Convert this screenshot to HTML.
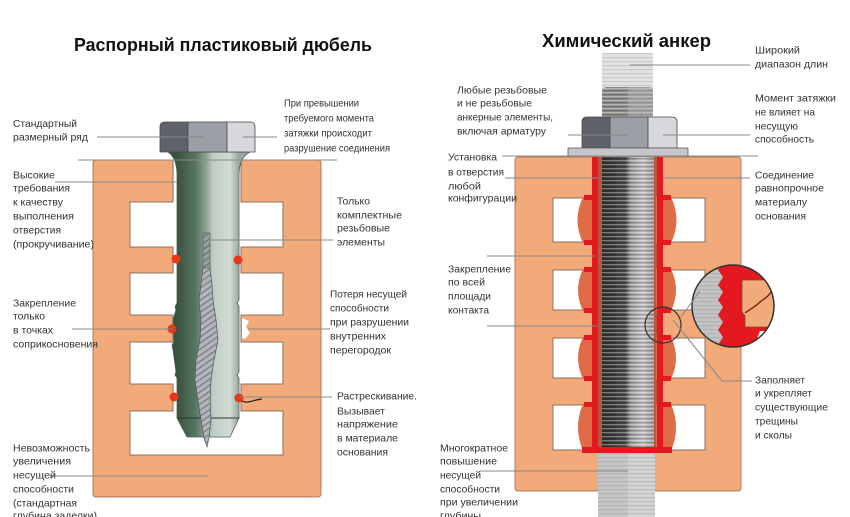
<!DOCTYPE html>
<html><head><meta charset="utf-8"><style>
html,body{margin:0;padding:0;background:#fff;}
svg{display:block}
text{font-family:"Liberation Sans","DejaVu Sans",sans-serif;}
.l{font-size:10.5px;fill:#333;}
.t{font-size:18px;font-weight:bold;fill:#111;}
.ld{stroke:#888;stroke-width:1;fill:none;}
</style></head><body>
<svg width="850" height="517" viewBox="0 0 850 517" xmlns="http://www.w3.org/2000/svg">
<defs>
 <linearGradient id="gb" gradientUnits="userSpaceOnUse" x1="177" x2="239" y1="0" y2="0">
  <stop offset="0" stop-color="#37523e"/>
  <stop offset="0.3" stop-color="#587561"/>
  <stop offset="0.47" stop-color="#8ea394"/>
  <stop offset="0.58" stop-color="#bfcdc3"/>
  <stop offset="0.85" stop-color="#d2dcd5"/>
  <stop offset="1" stop-color="#98aa9d"/>
 </linearGradient>
 <linearGradient id="gr" gradientUnits="userSpaceOnUse" x1="603" x2="653" y1="0" y2="0">
  <stop offset="0" stop-color="#2e2e2e"/>
  <stop offset="0.45" stop-color="#4a4a4a"/>
  <stop offset="0.55" stop-color="#9c9c9c"/>
  <stop offset="0.8" stop-color="#c6c6c6"/>
  <stop offset="1" stop-color="#a0a0a0"/>
 </linearGradient>
 <pattern id="pS" width="8" height="4" patternUnits="userSpaceOnUse">
  <rect y="0" width="8" height="1.3" fill="#ffffff" fill-opacity="0.35"/>
  <rect y="2.2" width="8" height="1" fill="#000000" fill-opacity="0.25"/>
 </pattern>
 <pattern id="pL" width="8" height="4" patternUnits="userSpaceOnUse">
  <rect y="1" width="8" height="1.2" fill="#a8a8a8" fill-opacity="0.6"/>
 </pattern>
 <pattern id="pD" width="5" height="5" patternUnits="userSpaceOnUse" patternTransform="rotate(-35)">
  <rect width="5" height="1.6" fill="#5a5e64"/>
 </pattern>
 <clipPath id="cc"><circle cx="733" cy="306" r="41"/></clipPath>
</defs>

<!-- Titles -->
<text class="t" x="74" y="51" textLength="298" lengthAdjust="spacingAndGlyphs">Распорный пластиковый дюбель</text>
<text class="t" x="542" y="47" textLength="169" lengthAdjust="spacingAndGlyphs">Химический анкер</text>

<!-- ===== LEFT DIAGRAM ===== -->
<rect x="93" y="160" width="228" height="337" rx="3" fill="#f3aa7b" stroke="#a67c62" stroke-width="1"/>
<path d="M173,160 L173,202 L130,202 L130,247 L173,247 L173,273 L130,273 L130,315 L173,315 L173,342 L130,342 L130,384 L173,384 L173,411 L130,411 L130,455 L283,455 L283,411 L241,411 L241,384 L283,384 L283,342 L241,342 L241,315 L283,315 L283,273 L241,273 L241,247 L283,247 L283,202 L241,202 L241,160 Z" fill="#fff" stroke="#8a7060" stroke-width="1"/>
<!-- crack white notch -->
<path d="M242,318 L249,321 L246,327 L250,333 L245,339 L242,338 Z" fill="#fff"/>

<!-- bolt body / plug -->
<path d="M168,152 L250,152 C242,156 239,164 239,175 L239,300 L237,303 L239,306 L239,372 L237,375 L239,378 L239,418 L230,437 L187,437 L177,418 L177,378 L175,375 L176,372 L173,350 L172,345 L174,342 L173,320 L176,310 L175,307 L177,303 L177,175 C177,164 174,156 168,152 Z" fill="url(#gb)" stroke="#4e5f52" stroke-width="0.8"/>
<line x1="177" y1="418" x2="239" y2="418" stroke="#333" stroke-width="0.9"/>
<!-- slot & screw -->
<rect x="203" y="233" width="7" height="37" fill="#9aa0a6" stroke="#555" stroke-width="0.6"/>
<rect x="203" y="233" width="7" height="37" fill="url(#pD)" opacity="0.6"/>
<path d="M203,268 L201,285 L199,300 L201,320 L200,340 L196,360 L195,380 L198,400 L201,420 L204,438 L207,447 L209,438 L211,420 L210,400 L211,380 L214,360 L218,340 L216,320 L213,300 L212,285 L210,268 Z" fill="#b3b7bd" stroke="#50555a" stroke-width="0.7"/>
<path d="M203,268 L201,285 L199,300 L201,320 L200,340 L196,360 L195,380 L198,400 L201,420 L204,438 L207,447 L209,438 L211,420 L210,400 L211,380 L214,360 L218,340 L216,320 L213,300 L212,285 L210,268 Z" fill="url(#pD)" opacity="0.55"/>

<!-- bolt head -->
<path d="M160,127 Q160,122 165,122 L188,122 L188,152 L160,152 Z" fill="#5f626b" stroke="#4a4a4a" stroke-width="0.8"/>
<rect x="188" y="122" width="39" height="30" fill="#9c9fa6" stroke="#4a4a4a" stroke-width="0.8"/>
<path d="M227,122 L250,122 Q255,122 255,127 L255,152 L227,152 Z" fill="#d6d8db" stroke="#4a4a4a" stroke-width="0.8"/>

<!-- red dots -->
<g fill="#e8381a">
 <circle cx="176" cy="259" r="4.5"/><circle cx="238" cy="260" r="4.5"/>
 <circle cx="172" cy="329" r="4.5"/>
 <circle cx="174" cy="397" r="4.5"/><circle cx="239" cy="398" r="4.5"/>
</g>
<path d="M242,401 C248,404 252,400 262,399" stroke="#222" stroke-width="1.2" fill="none"/>

<!-- left leaders -->
<line class="ld" x1="78" y1="160" x2="337" y2="160"/>
<line class="ld" x1="97" y1="137" x2="205" y2="137"/>
<line class="ld" x1="243" y1="137" x2="277" y2="137"/>
<line class="ld" x1="55" y1="182" x2="177" y2="182"/>
<line class="ld" x1="207" y1="240" x2="333" y2="240"/>
<line class="ld" x1="72" y1="329" x2="173" y2="329"/>
<line class="ld" x1="248" y1="329" x2="330" y2="329"/>
<line class="ld" x1="240" y1="397" x2="332" y2="397"/>
<line class="ld" x1="50" y1="476" x2="208" y2="476"/>

<!-- ===== RIGHT DIAGRAM ===== -->
<rect x="515" y="157" width="226" height="334" rx="3" fill="#f3aa7b" stroke="#a67c62" stroke-width="1"/>
<g fill="#fff" stroke="#8a7060" stroke-width="1">
 <rect x="553" y="198" width="152" height="44"/>
 <rect x="553" y="270" width="152" height="40"/>
 <rect x="553" y="338" width="152" height="40"/>
 <rect x="553" y="405" width="152" height="45"/>
</g>
<!-- coral resin -->
<rect x="596" y="157" width="62" height="295" fill="#b9573e"/>
<g fill="#df6c47">
 <path d="M598,197 L583,197 Q572,220 583,243 L598,243 Z"/>
 <path d="M598,269 L583,269 Q573,290 583,311 L598,311 Z"/>
 <path d="M598,337 L583,337 Q573,358 583,379 L598,379 Z"/>
 <path d="M598,404 L583,404 Q573,427 583,451 L598,451 Z"/>
 <path d="M656,197 L671,197 Q682,220 671,243 L656,243 Z"/>
 <path d="M656,269 L671,269 Q681,290 671,311 L656,311 Z"/>
 <path d="M656,337 L671,337 Q681,358 671,379 L656,379 Z"/>
 <path d="M656,404 L671,404 Q681,427 671,451 L656,451 Z"/>
</g>
<!-- red resin -->
<g fill="#e3191f">
 <rect x="592" y="157" width="6" height="295"/>
 <rect x="657" y="157" width="6" height="295"/>
 <rect x="584" y="195" width="14" height="5"/><rect x="584" y="240" width="14" height="5"/>
 <rect x="584" y="267" width="14" height="5"/><rect x="584" y="308" width="14" height="5"/>
 <rect x="584" y="335" width="14" height="5"/><rect x="584" y="376" width="14" height="5"/>
 <rect x="584" y="402" width="14" height="5"/>
 <rect x="657" y="195" width="14" height="5"/><rect x="657" y="240" width="14" height="5"/>
 <rect x="657" y="267" width="14" height="5"/><rect x="657" y="308" width="14" height="5"/>
 <rect x="657" y="335" width="14" height="5"/><rect x="657" y="376" width="14" height="5"/>
 <rect x="657" y="402" width="14" height="5"/>
 <rect x="582" y="447" width="90" height="6"/>
</g>
<!-- rod in block -->
<rect x="602" y="157" width="52" height="290" fill="url(#gr)"/>
<rect x="602" y="157" width="52" height="290" fill="url(#pS)"/>
<!-- faded rod below -->
<rect x="598" y="453" width="57" height="64" fill="#d4d4d4"/>
<rect x="598" y="453" width="30" height="64" fill="#c6c6c6"/>
<rect x="598" y="453" width="57" height="64" fill="url(#pL)"/>
<!-- faded rod above -->
<rect x="602" y="53" width="51" height="36" fill="#e2e2e2"/>
<rect x="602" y="53" width="51" height="36" fill="url(#pL)" opacity="0.7"/>
<!-- threaded segment -->
<path d="M602,117 L602,92 Q602,87 607,87 L648,87 Q653,87 653,92 L653,117 Z" fill="#8e8e8e"/>
<path d="M602,117 L602,92 Q602,87 607,87 L648,87 Q653,87 653,92 L653,117 Z" fill="url(#pS)"/>
<rect x="628" y="87" width="25" height="30" fill="#bdbdbd" opacity="0.45"/>
<!-- nut -->
<path d="M582,122 Q582,117 587,117 L610,117 L610,148 L582,148 Z" fill="#5f626b" stroke="#4a4a4a" stroke-width="0.8"/>
<rect x="610" y="117" width="38" height="31" fill="#9c9fa6" stroke="#4a4a4a" stroke-width="0.8"/>
<path d="M648,117 L672,117 Q677,117 677,122 L677,148 L648,148 Z" fill="#d6d8db" stroke="#4a4a4a" stroke-width="0.8"/>
<!-- washer -->
<rect x="568" y="148" width="120" height="8" rx="1" fill="#c4c6c9" stroke="#555" stroke-width="0.8"/>

<!-- small magnifier circle -->
<circle cx="663" cy="325" r="18" fill="none" stroke="#333" stroke-width="1.2"/>
<!-- big magnifier -->
<g clip-path="url(#cc)">
 <rect x="690" y="262" width="90" height="90" fill="#e3191f"/>
 <path d="M690,262 L722,262 L718,270 L723,277 L718,285 L723,292 L718,300 L723,307 L718,315 L723,322 L718,330 L723,337 L718,345 L722,352 L690,352 Z" fill="#c3c3c3"/>
 <path d="M690,262 L722,262 L718,270 L723,277 L718,285 L723,292 L718,300 L723,307 L718,315 L723,322 L718,330 L723,337 L718,345 L722,352 L690,352 Z" fill="url(#pL)"/>
 <path d="M742,280 L780,280 L780,327 L745,327 L745,316 L742,312 Z" fill="#f3aa7b" stroke="#7a4a3a" stroke-width="0.8"/>
 <path d="M756,262 L780,262 L780,276 L766,276 Z" fill="#fff"/>
 <path d="M760,331 L780,331 L780,352 L752,352 Z" fill="#fff"/>
 <path d="M745,313 C752,308 756,306 760,302 C764,299 768,297 771,292" stroke="#7a1a10" stroke-width="1.3" fill="none"/>
</g>
<circle cx="733" cy="306" r="41" fill="none" stroke="#333" stroke-width="1.5"/>
<line class="ld" x1="681" y1="317" x2="700" y2="291" stroke="#555"/>

<!-- right leaders -->
<line class="ld" x1="502" y1="156" x2="758" y2="156"/>
<line class="ld" x1="630" y1="65" x2="750" y2="65"/>
<line class="ld" x1="568" y1="135" x2="628" y2="135"/>
<line class="ld" x1="663" y1="135" x2="750" y2="135"/>
<line class="ld" x1="505" y1="178" x2="598" y2="178"/>
<line class="ld" x1="663" y1="178" x2="750" y2="178"/>
<line class="ld" x1="487" y1="256" x2="595" y2="256"/>
<line class="ld" x1="487" y1="326" x2="597" y2="326"/>
<polyline class="ld" points="752,381 722,381 673,320"/>
<line class="ld" x1="480" y1="471" x2="628" y2="471"/>

<!-- ===== LEFT LABELS ===== -->
<g class="l">
 <text x="13" y="127" textLength="64" lengthAdjust="spacingAndGlyphs">Стандартный</text>
 <text x="13" y="140.5" textLength="75" lengthAdjust="spacingAndGlyphs">размерный ряд</text>

 <text x="284" y="106.5" textLength="75" lengthAdjust="spacingAndGlyphs">При превышении</text>
 <text x="284" y="121.5" textLength="90" lengthAdjust="spacingAndGlyphs">требуемого момента</text>
 <text x="284" y="136.5" textLength="88" lengthAdjust="spacingAndGlyphs">затяжки происходит</text>
 <text x="284" y="151.5" textLength="106" lengthAdjust="spacingAndGlyphs">разрушение соединения</text>

 <text x="13" y="178.5" textLength="42" lengthAdjust="spacingAndGlyphs">Высокие</text>
 <text x="13" y="191.5" textLength="57" lengthAdjust="spacingAndGlyphs">требования</text>
 <text x="13" y="205.5" textLength="50" lengthAdjust="spacingAndGlyphs">к качеству</text>
 <text x="13" y="219.5" textLength="61" lengthAdjust="spacingAndGlyphs">выполнения</text>
 <text x="13" y="233.5" textLength="48" lengthAdjust="spacingAndGlyphs">отверстия</text>
 <text x="13" y="247.5" textLength="81" lengthAdjust="spacingAndGlyphs">(прокручивание)</text>

 <text x="337" y="204.5" textLength="33" lengthAdjust="spacingAndGlyphs">Только</text>
 <text x="337" y="218.5" textLength="65" lengthAdjust="spacingAndGlyphs">комплектные</text>
 <text x="337" y="231.5" textLength="53" lengthAdjust="spacingAndGlyphs">резьбовые</text>
 <text x="337" y="245.5" textLength="48" lengthAdjust="spacingAndGlyphs">элементы</text>

 <text x="13" y="306.5" textLength="63" lengthAdjust="spacingAndGlyphs">Закрепление</text>
 <text x="13" y="319.5" textLength="32" lengthAdjust="spacingAndGlyphs">только</text>
 <text x="13" y="333.5" textLength="40" lengthAdjust="spacingAndGlyphs">в точках</text>
 <text x="13" y="347.5" textLength="85" lengthAdjust="spacingAndGlyphs">соприкосновения</text>

 <text x="330" y="297.5" textLength="77" lengthAdjust="spacingAndGlyphs">Потеря несущей</text>
 <text x="330" y="311.5" textLength="59" lengthAdjust="spacingAndGlyphs">способности</text>
 <text x="330" y="325.5" textLength="79" lengthAdjust="spacingAndGlyphs">при разрушении</text>
 <text x="330" y="339.5" textLength="56" lengthAdjust="spacingAndGlyphs">внутренних</text>
 <text x="330" y="353.5" textLength="61" lengthAdjust="spacingAndGlyphs">перегородок</text>

 <text x="337" y="399.5" textLength="80" lengthAdjust="spacingAndGlyphs">Растрескивание.</text>
 <text x="337" y="414.5" textLength="48" lengthAdjust="spacingAndGlyphs">Вызывает</text>
 <text x="337" y="427.5" textLength="61" lengthAdjust="spacingAndGlyphs">напряжение</text>
 <text x="337" y="441.5" textLength="61" lengthAdjust="spacingAndGlyphs">в материале</text>
 <text x="337" y="455.5" textLength="51" lengthAdjust="spacingAndGlyphs">основания</text>

 <text x="13" y="451.5" textLength="77" lengthAdjust="spacingAndGlyphs">Невозможность</text>
 <text x="13" y="464.5" textLength="58" lengthAdjust="spacingAndGlyphs">увеличения</text>
 <text x="13" y="478.5" textLength="43" lengthAdjust="spacingAndGlyphs">несущей</text>
 <text x="13" y="492.5" textLength="61" lengthAdjust="spacingAndGlyphs">способности</text>
 <text x="13" y="506.5" textLength="64" lengthAdjust="spacingAndGlyphs">(стандартная</text>
 <text x="13" y="519" textLength="84" lengthAdjust="spacingAndGlyphs">глубина заделки)</text>
</g>

<!-- ===== RIGHT LABELS ===== -->
<g class="l">
 <text x="755" y="53.5" textLength="45" lengthAdjust="spacingAndGlyphs">Широкий</text>
 <text x="755" y="67.5" textLength="73" lengthAdjust="spacingAndGlyphs">диапазон длин</text>

 <text x="457" y="93.5" textLength="90" lengthAdjust="spacingAndGlyphs">Любые резьбовые</text>
 <text x="457" y="106.5" textLength="75" lengthAdjust="spacingAndGlyphs">и не резьбовые</text>
 <text x="457" y="120.5" textLength="96" lengthAdjust="spacingAndGlyphs">анкерные элементы,</text>
 <text x="457" y="134.5" textLength="89" lengthAdjust="spacingAndGlyphs">включая арматуру</text>

 <text x="755" y="101.5" textLength="81" lengthAdjust="spacingAndGlyphs">Момент затяжки</text>
 <text x="755" y="115.5" textLength="60" lengthAdjust="spacingAndGlyphs">не влияет на</text>
 <text x="755" y="129.5" textLength="43" lengthAdjust="spacingAndGlyphs">несущую</text>
 <text x="755" y="142.5" textLength="59" lengthAdjust="spacingAndGlyphs">способность</text>

 <text x="448" y="160.5" textLength="49" lengthAdjust="spacingAndGlyphs">Установка</text>
 <text x="448" y="175.5" textLength="56" lengthAdjust="spacingAndGlyphs">в отверстия</text>
 <text x="448" y="189.5" textLength="33" lengthAdjust="spacingAndGlyphs">любой</text>
 <text x="448" y="201.5" textLength="69" lengthAdjust="spacingAndGlyphs">конфигурации</text>

 <text x="755" y="178.5" textLength="59" lengthAdjust="spacingAndGlyphs">Соединение</text>
 <text x="755" y="191.5" textLength="69" lengthAdjust="spacingAndGlyphs">равнопрочное</text>
 <text x="755" y="205.5" textLength="52" lengthAdjust="spacingAndGlyphs">материалу</text>
 <text x="755" y="219.5" textLength="51" lengthAdjust="spacingAndGlyphs">основания</text>

 <text x="448" y="272.5" textLength="63" lengthAdjust="spacingAndGlyphs">Закрепление</text>
 <text x="448" y="285.5" textLength="37" lengthAdjust="spacingAndGlyphs">по всей</text>
 <text x="448" y="299.5" textLength="43" lengthAdjust="spacingAndGlyphs">площади</text>
 <text x="448" y="313.5" textLength="41" lengthAdjust="spacingAndGlyphs">контакта</text>

 <text x="755" y="383.5" textLength="50" lengthAdjust="spacingAndGlyphs">Заполняет</text>
 <text x="755" y="396.5" textLength="57" lengthAdjust="spacingAndGlyphs">и укрепляет</text>
 <text x="755" y="410.5" textLength="73" lengthAdjust="spacingAndGlyphs">существующие</text>
 <text x="755" y="424.5" textLength="43" lengthAdjust="spacingAndGlyphs">трещины</text>
 <text x="755" y="438.5" textLength="37" lengthAdjust="spacingAndGlyphs">и сколы</text>

 <text x="440" y="451.5" textLength="68" lengthAdjust="spacingAndGlyphs">Многократное</text>
 <text x="440" y="464.5" textLength="57" lengthAdjust="spacingAndGlyphs">повышение</text>
 <text x="440" y="478.5" textLength="41" lengthAdjust="spacingAndGlyphs">несущей</text>
 <text x="440" y="492.5" textLength="60" lengthAdjust="spacingAndGlyphs">способности</text>
 <text x="440" y="505.5" textLength="78" lengthAdjust="spacingAndGlyphs">при увеличении</text>
 <text x="440" y="519" textLength="41" lengthAdjust="spacingAndGlyphs">глубины</text>
</g>
</svg>
</body></html>
